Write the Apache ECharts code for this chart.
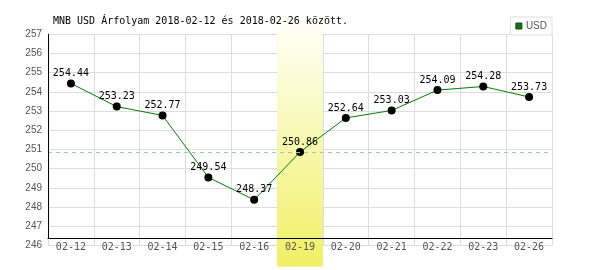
<!DOCTYPE html>
<html><head><meta charset="utf-8">
<script src="https://cdn.jsdelivr.net/npm/echarts@6/dist/echarts.min.js"></script>
<style>html,body{margin:0;padding:0;background:#fff}#c{width:600px;height:270px}</style>
</head><body><div id="c"></div>
<script>
const titleText = 'MNB USD Árfolyam 2018-02-12 és 2018-02-26 között.';
const seriesName = 'USD';
const categories = ['02-12','02-13','02-14','02-15','02-16','02-19','02-20','02-21','02-22','02-23','02-26'];
const rates = [254.44, 253.23, 252.77, 249.54, 248.37, 250.86, 252.64, 253.03, 254.09, 254.28, 253.73];
const highlightDate = '02-19';
const referenceRate = 250.86;
const yMin = 246, yMax = 257, yStep = 1;

const mono = 'DejaVu Sans Mono';
const sans = 'Liberation Sans';
const chart = echarts.init(document.getElementById('c'), null, {renderer:'canvas'});
chart.setOption({
  animation: false,
  backgroundColor: '#fff',
  title: {
    text: titleText, left: 53, top: 16, padding: 0,
    textStyle: {fontFamily: mono, fontSize: 10, fontWeight: 'normal', color: '#000'}
  },
  legend: {
    right: 48, top: 17, orient: 'horizontal',
    backgroundColor: '#fff', borderColor: '#ddd', borderWidth: 1, borderRadius: 0,
    padding: [4, 5, 4, 5], itemWidth: 6, itemHeight: 6, itemGap: 4, icon: 'rect',
    textStyle: {fontFamily: sans, fontSize: 10, color: '#555', padding: [0,0,0,-1]},
    data: [{name: seriesName, icon: 'rect', itemStyle: {color: '#008000', borderColor: '#333', borderWidth: 1}}]
  },
  grid: [
    {left: 48, right: 48, top: 34.3, bottom: 24.7},
    {left: 48, right: 48, top: 34.3, bottom: 32}
  ],
  xAxis: [
    {
      type: 'category', gridIndex: 0, data: categories, boundaryGap: true,
      axisLine: {show: false}, axisTick: {show: false},
      splitLine: {show: true, lineStyle: {color: '#ddd', width: 1}},
      axisLabel: {show: false}
    },
    {
      type: 'category', gridIndex: 1, data: categories, z: 10, boundaryGap: true,
      axisLine: {show: true, lineStyle: {color: '#000', width: 1}},
      axisTick: {show: false}, splitLine: {show: false},
      axisLabel: {margin: 4, fontFamily: mono, fontSize: 10, color: '#555', interval: 0}
    }
  ],
  yAxis: [
    {
      type: 'value', gridIndex: 0, min: yMin, max: yMax, interval: yStep,
      axisLine: {show: false}, axisTick: {show: false},
      splitLine: {show: true, lineStyle: {color: '#ddd', width: 1}},
      axisLabel: {margin: 6, fontFamily: sans, fontSize: 10, color: '#555'}
    },
    {
      type: 'value', gridIndex: 1, min: 0, max: 1, z: 10,
      axisLine: {show: true, lineStyle: {color: '#000', width: 1}},
      axisTick: {show: false}, axisLabel: {show: false}, splitLine: {show: false}
    }
  ],
  series: [
    {
      name: 'ref', type: 'line', xAxisIndex: 0, yAxisIndex: 0, data: [], z: 1,
      markLine: {
        silent: true, symbol: 'none', label: {show: false},
        lineStyle: {color: '#99d099', type: [4, 4], width: 1},
        data: [{yAxis: referenceRate}]
      }
    },
    {
      name: 'band', type: 'custom', xAxisIndex: 0, yAxisIndex: 0, z: 2, clip: false, silent: true,
      data: [[highlightDate, referenceRate]],
      renderItem: function (params, api) {
        const cs = params.coordSys;
        const x = api.coord([api.value(0), api.value(1)])[0];
        const w = api.size([1, 0])[0];
        return {
          type: 'rect',
          shape: {x: x - w / 2, y: cs.y - 15, width: w, height: cs.height + 36.5},
          style: {
            fill: new echarts.graphic.LinearGradient(0, 0, 0, 1, [
              {offset: 0, color: '#fffffa'},
              {offset: 1, color: '#f0f064'}
            ])
          }
        };
      }
    },
    {
      name: seriesName, type: 'line', xAxisIndex: 0, yAxisIndex: 0, z: 3,
      data: rates,
      symbol: 'circle', symbolSize: 8,
      lineStyle: {color: '#008000', width: 1},
      itemStyle: {color: '#000'},
      label: {show: true, position: 'top', distance: 1, fontFamily: mono, fontSize: 10, color: '#000'}
    }
  ]
});
</script></body></html>
